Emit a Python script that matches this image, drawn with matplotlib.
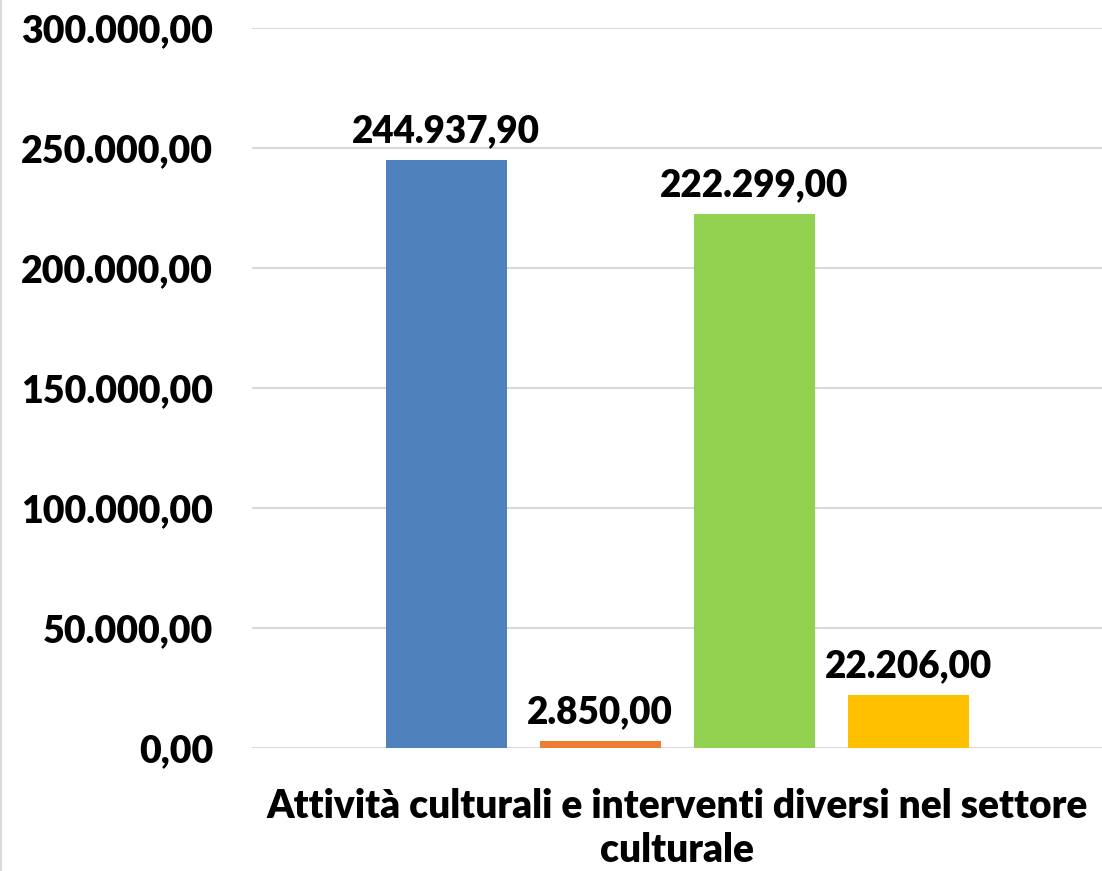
import matplotlib
matplotlib.use("Agg")
import matplotlib.pyplot as plt
import numpy as np

category = "Attività culturali e interventi diversi nel settore\nculturale"
values = [244937.90, 2850.00, 222299.00, 22206.00]
colors = ["#4F81BD", "#ED7D31", "#92D050", "#FFC000"]
yticks = [0, 50000, 100000, 150000, 200000, 250000, 300000]

def fmt(v):
    s = f"{v:,.2f}"
    return s.replace(",", "X").replace(".", ",").replace("X", ".")

plt.rcParams['font.family'] = ['Lato', 'DejaVu Sans']

W = 'heavy'
fig = plt.figure(figsize=(11.02, 8.71), dpi=100)
ax = fig.add_axes([252/1102, 1 - 748/871, (1102-252)/1102, 720/871])

n = len(values)
step = 154
width = 121
centers = (np.arange(n) - (n - 1) / 2) * step
ax.bar(centers, values, width=width, color=colors, zorder=3)
for x, v in zip(centers, values):
    ax.text(x, v + 5000, fmt(v), ha='center', va='bottom', fontsize=26.5, fontweight=W)

ax.set_xlim(-425, 425)
ax.set_ylim(0, 300000)
ax.set_yticks(yticks)
ax.set_yticklabels([fmt(t) for t in yticks], fontsize=27, fontweight=W)
ax.set_xticks([0])
ax.set_xticklabels([category], fontsize=28, fontweight=W, linespacing=1.22)
ax.tick_params(axis='both', length=0)
ax.tick_params(axis='y', pad=28)
ax.tick_params(axis='x', pad=29)
ax.grid(axis='y', color='#D9D9D9', linewidth=1.5, zorder=0)
for s in ax.spines.values():
    s.set_visible(False)

fig.add_artist(plt.Line2D([0.5/1102, 0.5/1102], [0, 1], color='#D9D9D9', linewidth=1.5))
fig.savefig("out.png", dpi=100)
